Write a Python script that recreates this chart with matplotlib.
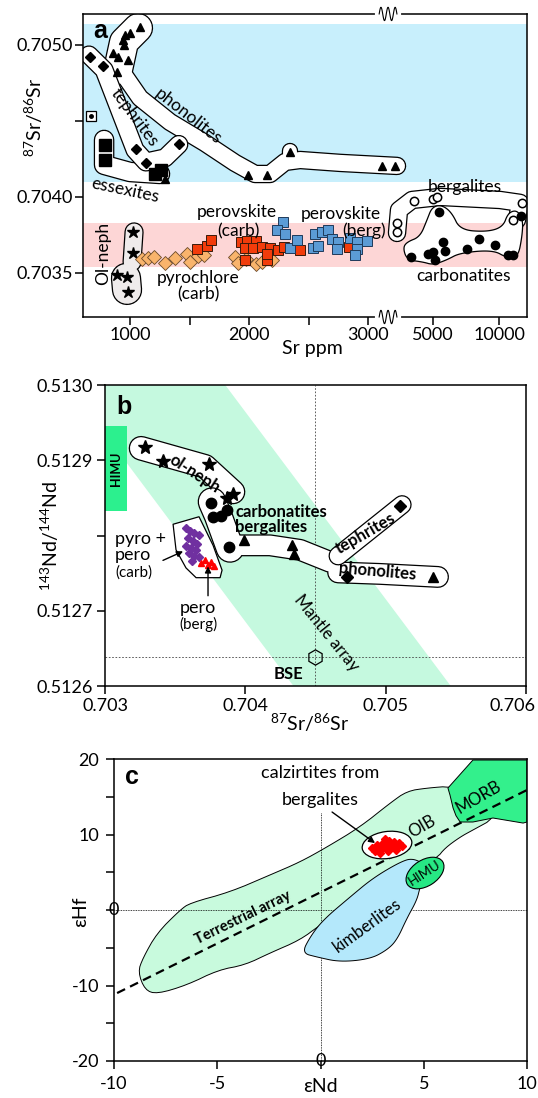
import matplotlib
matplotlib.use("Agg")
import matplotlib.pyplot as plt
import numpy as np
from matplotlib import transforms
from matplotlib.patches import Ellipse, Polygon, Rectangle

plt.rcParams.update(
    {
        "font.family": ["Lato", "DejaVu Sans"],
        "mathtext.default": "regular",
        "font.size": 12,
        "axes.linewidth": 1.1,
        "xtick.major.width": 1.1,
        "ytick.major.width": 1.1,
        "xtick.major.size": 5.5,
        "ytick.major.size": 5.5,
        "xtick.labelsize": 13,
        "ytick.labelsize": 13,
    }
)

# =============================================================================
# Panel a data: Sr ppm vs 87Sr/86Sr
# =============================================================================
phon_sr = [1084, 1000, 958, 941, 950, 857, 899, 983, 891, 1294, 1992, 2151, 2344, 3118, 3358]
phon_r = [0.705118, 0.705079, 0.705066, 0.705033, 0.705000, 0.704947, 0.704921, 0.704901,
          0.704822, 0.704118, 0.704145, 0.704145, 0.704296, 0.704204, 0.704204]
teph_sr = [664, 773, 1050, 1134, 1412]
teph_r = [0.704921, 0.704862, 0.704316, 0.704224, 0.704349]
ess_sr = [790, 790, 1210, 1260]
ess_r = [0.704342, 0.704243, 0.704151, 0.704178]
other_sr = [672]
other_r = [0.704533]
olneph_sr = [1025, 1025, 891, 975, 983]
olneph_r = [0.703770, 0.703632, 0.703487, 0.703474, 0.703375]
pyro_sr = [1101, 1151, 1202, 1294, 1378, 1479, 1504, 1571, 1622, 1882, 1908, 1975, 2059, 2109, 2193]
pyro_r = [0.703592, 0.703599, 0.703605, 0.703566, 0.703599, 0.703625, 0.703572, 0.703612,
          0.703618, 0.703605, 0.703566, 0.703592, 0.703559, 0.703572, 0.703586]
perc_sr = [1563, 1647, 1681, 1933, 1983, 2059, 1966, 2034, 2109, 1966, 2151, 2176, 2244, 2294,
           2429, 2151, 2840]
perc_r = [0.703658, 0.703678, 0.703717, 0.703704, 0.703711, 0.703711, 0.703664, 0.703664,
          0.703671, 0.703586, 0.703586, 0.703664, 0.703651, 0.703671, 0.703651, 0.703625, 0.703671]
perb_sr = [2286, 2235, 2302, 2344, 2403, 2538, 2580, 2555, 2613, 2664, 2697, 2748, 2739, 2849,
           2908, 2908, 2891, 2992]
perb_r = [0.703836, 0.703783, 0.703757, 0.703664, 0.703717, 0.703664, 0.703678, 0.703757,
          0.703770, 0.703783, 0.703724, 0.703704, 0.703658, 0.703730, 0.703704, 0.703658,
          0.703618, 0.703711]
berg_sr = [3425, 3425, 4092, 4992, 5204, 11526, 12660]
berg_r = [0.703829, 0.703770, 0.703974, 0.703987, 0.704000, 0.703849, 0.703961]
carb_sr = [5314, 3965, 4737, 4992, 5097, 5541, 5657, 7121, 8074, 9546, 10935, 11526, 12525]
carb_r = [0.703901, 0.703605, 0.703625, 0.703638, 0.703586, 0.703704, 0.703645, 0.703658,
          0.703724, 0.703684, 0.703618, 0.703618, 0.703875]

# envelopes (centre lines of the rounded fields)
teph_env_sr = [655, 782, 1042, 1134, 1294, 1410]
teph_env_r = [0.704934, 0.704836, 0.704309, 0.704230, 0.704257, 0.704345]
phon_env_sr = [933, 1084, 1336, 1630, 1882, 2050, 2176, 2302, 2429, 2765, 3425]
phon_env_r = [0.704822, 0.704651, 0.704493, 0.704355, 0.704224, 0.704151, 0.704151,
              0.704230, 0.704243, 0.704224, 0.704204]
phon_top_sr = [1067, 950, 899]
phon_top_r = [0.705112, 0.705020, 0.704836]
phon_bump_sr = [2344, 2344]
phon_bump_r = [0.704243, 0.704303]
ess_env_sr = [782, 782, 1000, 1252]
ess_env_r = [0.704375, 0.704211, 0.704164, 0.704151]
olneph_env1_sr = [1034, 1017]
olneph_env1_r = [0.703770, 0.703572]
olneph_env2_sr = [966, 975]
olneph_env2_r = [0.703467, 0.703388]
berg_env_sr = [3425, 3498, 4007, 5370, 10058, 12399, 12015]
berg_env_r = [0.703763, 0.703914, 0.703980, 0.704000, 0.703980, 0.703961, 0.703849]
carb_env_sr = [3646, 3803, 4496, 4992, 5778, 6620, 9348, 10823, 12142, 12659, 12794, 12016,
               10937, 10379, 8778, 6620, 6088, 5483, 4940, 4688, 4357, 3803]
carb_env_r = [0.703664, 0.703586, 0.703572, 0.703553, 0.703586, 0.703632, 0.703651, 0.703599,
              0.703605, 0.703737, 0.703849, 0.703914, 0.703895, 0.703803, 0.703770, 0.703783,
              0.703895, 0.703947, 0.703934, 0.703849, 0.703737, 0.703704]

# bands
blue_band = (0.704099, 0.705138)
pink_band = (0.703539, 0.703829)

# =============================================================================
# Panel b data: 87Sr/86Sr vs 143Nd/144Nd
# =============================================================================
olneph_b_sr = [0.703285, 0.703413, 0.703741, 0.703912, 0.703870]
olneph_b_nd = [0.512918, 0.512899, 0.512895, 0.512855, 0.512850]
carb_b_sr = [0.703756, 0.703770, 0.703827, 0.703870, 0.703884]
carb_b_nd = [0.512843, 0.512825, 0.512826, 0.512834, 0.512785]
tri_b_sr = [0.703991, 0.704333, 0.704347, 0.705338]
tri_b_nd = [0.512794, 0.512787, 0.512775, 0.512745]
phon_b_sr = [0.704725]
phon_b_nd = [0.512745]
teph_b_sr = [0.705103]
teph_b_nd = [0.512839]
pyro_b_sr = [0.703577, 0.703606, 0.703634, 0.703670, 0.703592, 0.703627, 0.703656, 0.703577,
             0.703613, 0.703649, 0.703599, 0.703634, 0.703670, 0.703620]
pyro_b_nd = [0.512810, 0.512806, 0.512803, 0.512801, 0.512797, 0.512793, 0.512789, 0.512786,
             0.512783, 0.512781, 0.512777, 0.512773, 0.512771, 0.512766]
pero_b_sr = [0.703684, 0.703713, 0.703734, 0.703756, 0.703777]
pero_b_nd = [0.512763, 0.512767, 0.512761, 0.512765, 0.512759]
bse = (0.704497, 0.512639)
mantle_sr = [0.702740, 0.703857, 0.705464, 0.704343]
mantle_nd = [0.5130, 0.5130, 0.5126, 0.5126]
himu_b = (0.703, 0.703157, 0.512832, 0.512945)
pp_poly_sr = [0.703485, 0.703670, 0.703770, 0.703834, 0.703820, 0.703649, 0.703577, 0.703506]
pp_poly_nd = [0.512815, 0.512825, 0.512787, 0.512754, 0.512744, 0.512744, 0.512757, 0.512781]
olneph_benv = ([0.703257, 0.703713, 0.703912], [0.512916, 0.512892, 0.512858])
carb_benv = ([0.703763, 0.703805, 0.703891], [0.512845, 0.512827, 0.512783])
band_benv = ([0.703891, 0.704176, 0.704390, 0.704604], [0.512787, 0.512787, 0.512781, 0.512765])
phon_benv = ([0.704661, 0.704960, 0.705373], [0.512751, 0.512749, 0.512745])
teph_benv = ([0.704661, 0.705117], [0.512773, 0.512841])

# =============================================================================
# Panel c data: eNd vs eHf
# =============================================================================
calz_end = [2.49, 2.74, 2.93, 3.03, 3.17, 3.32, 3.41, 3.56, 3.70, 3.80, 3.95, 2.88, 3.27, 3.66,
            2.64, 3.12]
calz_ehf = [8.21, 8.61, 8.08, 8.87, 8.34, 9.14, 8.48, 9.01, 8.34, 8.87, 8.48, 7.55, 7.81, 7.95,
            7.81, 9.40]
oib_end = [-8.84, -8.60, -7.92, -6.80, -6.32, -4.38, -2.45, -0.99, 0.31, 1.91, 3.37, 4.19, 5.16,
           6.37, 8.21, 8.45, 7.38, 6.76, 6.03, 5.64, 3.85, 1.43, -0.02, -0.99, -2.45, -3.66,
           -4.96, -6.46, -7.92, -8.50]
oib_ehf = [-8.21, -6.36, -3.05, 0.00, 0.93, 2.38, 4.64, 6.36, 8.34, 10.99, 14.17, 15.76, 16.16,
           16.42, 14.57, 12.19, 10.60, 9.67, 8.21, 6.89, 3.97, 0.66, -1.99, -3.97, -5.70, -7.28,
           -7.95, -9.93, -11.13, -10.60]
kimb_end = [3.85, 4.48, 5.16, 4.82, 4.67, 4.19, 3.70, 3.22, 2.40, 0.94, -0.17, -0.90, -0.51,
            0.12, 1.43, 2.54]
kimb_ehf = [6.36, 6.89, 5.83, 3.05, 1.32, -1.06, -3.97, -5.30, -6.49, -6.89, -6.23, -5.70,
            -3.58, -1.32, 1.72, 4.24]
morb_end = [6.17, 7.38, 10.0, 10.0, 9.81, 8.35, 7.38, 6.76, 6.56, 6.42, 6.27]
morb_ehf = [16.16, 19.87, 19.87, 11.66, 11.52, 12.19, 11.66, 11.66, 12.5, 13.51, 15.23]
terr_end = [-9.85, 10.0]
terr_ehf = [-11.0, 15.9]
himu_c = (5.06, 4.90)
calz_c = (3.22, 8.61)

# colours
C_BLUE_BAND = "#C8EFFC"
C_PINK_BAND = "#FDD6D6"
C_MANTLE = "#C5F9DF"
C_HIMU = "#2CF08E"


def sausage(ax, paths, fill="white", z=2):
    """Rounded envelope drawn as a thick outlined stroke."""
    for xs, ys, w in paths:
        ax.plot(xs, ys, color="k", lw=w + 1.8, solid_capstyle="round",
                solid_joinstyle="round", zorder=z)
    for xs, ys, w in paths:
        ax.plot(xs, ys, color=fill, lw=w, solid_capstyle="round",
                solid_joinstyle="round", zorder=z + 0.01)


def smooth_patch(ax, xs, ys, n=4, **kw):
    """Closed field smoothed (Chaikin) in axes space."""
    pts = np.column_stack([xs, ys]).astype(float)
    pts = ax.transAxes.inverted().transform(ax.transData.transform(pts))
    for _ in range(n):
        nxt = np.roll(pts, -1, axis=0)
        q = 0.75 * pts + 0.25 * nxt
        r = 0.25 * pts + 0.75 * nxt
        pts = np.empty((2 * len(q), 2))
        pts[0::2] = q
        pts[1::2] = r
    ax.add_patch(Polygon(pts, closed=True, transform=ax.transAxes, **kw))


def axis_break(ax, xf, yf):
    ax.plot([xf - 0.024, xf + 0.024], [yf, yf], color="white", lw=3,
            transform=ax.transAxes, clip_on=False, zorder=20)
    t = np.linspace(0, 1, 80)
    ax.plot(xf - 0.02 + 0.04 * t, yf + 0.022 * np.sin(2 * np.pi * 2.5 * t), color="k",
            lw=0.8, transform=ax.transAxes, clip_on=False, zorder=21)


fig = plt.figure(figsize=(5.38, 10.98), dpi=100)

# =============================================================================
# Panel a
# =============================================================================
B, K = 3185.0, 1850.0


def fwd(x):
    x = np.asarray(x, dtype=float)
    return np.where(x <= B, x, B + (np.log10(np.maximum(x, B)) - np.log10(B)) * K)


def inv(p):
    p = np.asarray(p, dtype=float)
    return np.where(p <= B, p, B * 10 ** ((np.maximum(p, B) - B) / K))


axa = fig.add_axes([0.1543, 0.7113, 0.8253, 0.2760])
axa.set_xscale("function", functions=(fwd, inv))
axa.set_xlim(605, 13340)
axa.set_ylim(0.703210, 0.705204)
axa.axhspan(*blue_band, color=C_BLUE_BAND, lw=0, zorder=0)
axa.axhspan(*pink_band, color=C_PINK_BAND, lw=0, zorder=0)

sausage(axa, [(phon_top_sr, phon_top_r, 20), (phon_env_sr, phon_env_r, 11.5),
              (phon_bump_sr, phon_bump_r, 10)], z=2)
sausage(axa, [(ess_env_sr, ess_env_r, 13)], z=2.2)
sausage(axa, [(teph_env_sr, teph_env_r, 12)], z=2.4)
sausage(axa, [(olneph_env1_sr, olneph_env1_r, 12), (olneph_env2_sr, olneph_env2_r, 20)],
        fill="#EFEBEB", z=2.4)
sausage(axa, [(berg_env_sr, berg_env_r, 11.5)], z=2.2)
smooth_patch(axa, carb_env_sr, carb_env_r, facecolor="white", edgecolor="k", lw=0.9, zorder=2.5)

mk = dict(ls="none", zorder=5)
axa.plot(phon_sr, phon_r, "^", color="k", ms=6, **mk)
axa.plot(teph_sr, teph_r, "D", color="k", ms=5.5, **mk)
axa.plot(ess_sr, ess_r, "s", color="k", ms=9, **mk)
axa.plot(other_sr, other_r, "s", mfc="white", mec="k", ms=7, mew=0.9, **mk)
axa.plot(other_sr, other_r, "o", color="k", ms=2.5, **mk)
axa.plot(olneph_sr, olneph_r, "*", color="k", ms=9, **mk)
axa.plot(pyro_sr, pyro_r, "D", mfc="#F9B46C", mec="#6B4A2A", ms=7, mew=0.6, **mk)
axa.plot(perc_sr, perc_r, "s", mfc="#F23C0B", mec="#3A1A0A", ms=7.5, mew=0.7, **mk)
axa.plot(perb_sr, perb_r, "s", mfc="#5B9BD5", mec="#1F3A5A", ms=7.5, mew=0.7, **mk)
axa.plot(berg_sr, berg_r, "o", mfc="white", mec="k", ms=6, mew=1.1, **mk)
axa.plot(carb_sr, carb_r, "o", color="k", ms=6, **mk)

txt = dict(ha="center", va="center", zorder=6, fontsize=12.5)
axa.text(1042, 0.704526, "tephrites", rotation=-53, **txt)
axa.text(1487, 0.704533, "phonolites", rotation=-38, **txt)
axa.text(958, 0.704046, "essexites", rotation=-12, **txt)
axa.text(773, 0.703625, "Ol-neph", rotation=90, **txt)
axa.text(1899, 0.703901, "perovskite", **txt)
axa.text(1908, 0.703776, "(carb)", **txt)
axa.text(1571, 0.703467, "pyrochlore", **txt)
axa.text(1571, 0.703362, "(carb)", **txt)
axa.text(2773, 0.703888, "perovskite", **txt)
axa.text(2966, 0.703776, "(berg)", **txt)
axa.text(6975, 0.704066, "bergalites", **txt)
axa.text(6831, 0.703480, "carbonatites", **txt)
axa.text(0.038, 0.944, "a", transform=axa.transAxes, ha="center", va="center",
         fontsize=18, fontweight="bold", family="Liberation Sans")

axa.set_xticks([1000, 1500, 2000, 2500, 3000, 5000, 10000])
axa.set_xticklabels(["1000", "", "2000", "", "3000", "5000", "10000"])
axa.xaxis.set_minor_locator(matplotlib.ticker.NullLocator())
axa.set_yticks([0.7035, 0.7040, 0.7045, 0.7050])
axa.set_yticklabels(["0.7035", "0.7040", "", "0.7050"])
axa.tick_params(axis="both", direction="out", pad=2)
axa.set_xlabel("Sr ppm", fontsize=14)
axa.xaxis.set_label_coords(0.516, -0.075)
axa.set_ylabel("$^{87}$Sr/$^{86}$Sr", fontsize=14)
axa.yaxis.set_label_coords(-0.085, 0.66)
axis_break(axa, 0.687, 1.0)
axis_break(axa, 0.687, 0.0)

# =============================================================================
# Panel b
# =============================================================================
axb = fig.add_axes([0.1952, 0.3752, 0.7825, 0.2741])
axb.set_xlim(0.703, 0.706)
axb.set_ylim(0.5126, 0.5130)
axb.add_patch(Polygon(np.column_stack([mantle_sr, mantle_nd]), closed=True,
                      facecolor=C_MANTLE, lw=0, zorder=0))
axb.add_patch(Rectangle((himu_b[0], himu_b[2]), himu_b[1] - himu_b[0], himu_b[3] - himu_b[2],
                        facecolor=C_HIMU, lw=0, zorder=1))
axb.text((himu_b[0] + himu_b[1]) / 2, (himu_b[2] + himu_b[3]) / 2, "HIMU", rotation=90,
         ha="center", va="center", fontsize=9, fontweight="bold", zorder=2)
dash = dict(color="#444444", lw=0.6, ls=(0, (2, 2)), zorder=1.5)
axb.axvline(bse[0], **dash)
axb.axhline(bse[1], **dash)
axb.plot([bse[0]], [bse[1]], "h", mfc="none", mec="k", ms=11, mew=0.9, zorder=4)

sausage(axb, [(*olneph_benv, 16)], z=2)
sausage(axb, [(*carb_benv, 19), (*band_benv, 14), (*phon_benv, 14)], z=2.2)
sausage(axb, [(*teph_benv, 12)], z=2.4)
axb.add_patch(Polygon(np.column_stack([pp_poly_sr, pp_poly_nd]), closed=True,
                      facecolor="white", edgecolor="k", lw=0.9, zorder=2.5))

axb.plot(olneph_b_sr, olneph_b_nd, "*", color="k", ms=10, **mk)
axb.plot(carb_b_sr, carb_b_nd, "o", color="k", ms=7.5, **mk)
axb.plot(tri_b_sr, tri_b_nd, "^", color="k", ms=7.5, **mk)
axb.plot(phon_b_sr, phon_b_nd, "D", color="k", ms=6.5, **mk)
axb.plot(teph_b_sr, teph_b_nd, "D", color="k", ms=6.5, **mk)
axb.plot(pyro_b_sr, pyro_b_nd, "D", color="#7030A0", ms=3.8, **mk)
axb.plot(pero_b_sr, pero_b_nd, "^", color="#FF0000", ms=5, **mk)

bold = dict(ha="center", va="center", fontsize=12, fontweight="bold", zorder=6)
axb.text(0.703641, 0.512882, "ol-neph", rotation=-33, **bold)
axb.text(0.703927, 0.512831, "carbonatites", **{**bold, "ha": "left"})
axb.text(0.703927, 0.512811, "bergalites", **{**bold, "ha": "left"})
axb.text(0.704853, 0.512803, "tephrites", rotation=30, **bold)
axb.text(0.704939, 0.512752, "phonolites", rotation=-5, **bold)
axb.text(0.704307, 0.512616, "BSE", **bold)
axb.text(0.704579, 0.512671, "Mantle array", rotation=-51, ha="center", va="center",
         fontsize=12, zorder=6)
axb.text(0.703071, 0.512795, "pyro +", ha="left", va="center", fontsize=13, zorder=6)
axb.text(0.703071, 0.512774, "pero", ha="left", va="center", fontsize=13, zorder=6)
axb.text(0.703071, 0.512751, "(carb)", ha="left", va="center", fontsize=11, zorder=6)
axb.text(0.703663, 0.512704, "pero", ha="center", va="center", fontsize=13, zorder=6)
axb.text(0.703663, 0.512682, "(berg)", ha="center", va="center", fontsize=11, zorder=6)
arrow = dict(arrowstyle="-|>", color="k", lw=1.0, mutation_scale=9, shrinkA=0, shrinkB=0)
axb.annotate("", xy=(0.703556, 0.512779), xytext=(0.703413, 0.512767), arrowprops=arrow,
             zorder=6)
axb.annotate("", xy=(0.703734, 0.512759), xytext=(0.703734, 0.512720), arrowprops=arrow,
             zorder=6)
axb.text(0.045, 0.927, "b", transform=axb.transAxes, ha="center", va="center",
         fontsize=18, fontweight="bold", family="Liberation Sans")

axb.set_xticks([0.703, 0.704, 0.705, 0.706])
axb.set_xticklabels(["0.703", "0.704", "0.705", "0.706"])
axb.set_yticks([0.5126, 0.5127, 0.5128, 0.5129, 0.5130])
axb.set_yticklabels(["0.5126", "0.5127", "", "0.5129", "0.5130"])
axb.tick_params(axis="both", direction="out", pad=3)
# the last label sits flush against the right edge of the figure
last = axb.get_xticklabels()[-1]
last.set_transform(last.get_transform()
                   + transforms.ScaledTranslation(-0.14, 0, fig.dpi_scale_trans))
axb.set_xlabel("$^{87}$Sr/$^{86}$Sr", fontsize=14)
axb.xaxis.set_label_coords(0.485, -0.085)
axb.set_ylabel("$^{143}$Nd/$^{144}$Nd", fontsize=14)
axb.yaxis.set_label_coords(-0.105, 0.50)

# =============================================================================
# Panel c
# =============================================================================
axc = fig.add_axes([0.2119, 0.0337, 0.7677, 0.2750])
axc.set_xlim(-10, 10)
axc.set_ylim(-20, 20)
smooth_patch(axc, oib_end, oib_ehf, n=2, facecolor="#C8FADD", edgecolor="k", lw=0.7,
             zorder=1)
axc.plot([0, 0], [12.85, -20], color="k", lw=0.6, ls=(0, (1, 1)), zorder=1.5)
axc.plot([-10, 10], [0, 0], color="k", lw=0.6, ls=(0, (1, 1)), zorder=1.5)
smooth_patch(axc, kimb_end, kimb_ehf, n=3, facecolor="#B4E8FB", edgecolor="k", lw=0.7,
             zorder=2)
axc.add_patch(Polygon(np.column_stack([morb_end, morb_ehf]), closed=True, facecolor="#33F08C",
                      edgecolor="k", lw=0.7, zorder=2, clip_on=True))
axc.plot(terr_end, terr_ehf, color="k", lw=1.6, ls=(0, (4, 2.5)), zorder=3)


def ellipse_at(ax, xy, w_in, h_in, angle, **kw):
    tr = fig.dpi_scale_trans + transforms.ScaledTranslation(xy[0], xy[1], ax.transData)
    ax.add_patch(Ellipse((0, 0), w_in, h_in, angle=angle, transform=tr, **kw))


ellipse_at(axc, himu_c, 0.42, 0.26, 33, facecolor="#27E884", edgecolor="k", lw=0.8, zorder=4)
ellipse_at(axc, calz_c, 0.50, 0.27, 8, facecolor="white", edgecolor="k", lw=0.9, zorder=4)
axc.plot(calz_end, calz_ehf, "D", color="#FF0000", ms=4.2, **mk)

axc.text(-0.02, 18.15, "calzirtites from", ha="center", va="center", fontsize=13, zorder=6)
axc.text(-0.02, 14.57, "bergalites", ha="center", va="center", fontsize=13, zorder=6)
axc.annotate("", xy=(2.64, 8.87), xytext=(0.56, 12.98), arrowprops=arrow, zorder=6)
axc.text(4.92, 11.0, "OIB", rotation=30, ha="center", va="center", fontsize=12, zorder=6)
axc.text(7.63, 14.97, "MORB", rotation=30, ha="center", va="center", fontsize=12, zorder=6)
axc.text(5.06, 4.90, "HIMU", rotation=33, ha="center", va="center", fontsize=9.5, zorder=6)
axc.text(2.25, -1.99, "kimberlites", rotation=36, ha="center", va="center", fontsize=12,
         zorder=6)
axc.text(-3.75, -1.06, "Terrestrial array", rotation=26, ha="center", va="center",
         fontsize=10.5, fontweight="bold", zorder=6)
axc.text(0.044, 0.94, "c", transform=axc.transAxes, ha="center", va="center",
         fontsize=18, fontweight="bold", family="Liberation Sans")

axc.set_xticks([-10, -5, 0, 5, 10])
axc.set_xticklabels(["-10", "-5", "", "5", "10"])
axc.set_yticks([-20, -15, -10, -5, 0, 5, 10, 15, 20])
axc.set_yticklabels(["-20", "", "-10", "", "", "", "10", "", "20"])
axc.tick_params(axis="both", direction="out", pad=5)
axc.text(-10, 0, "0", ha="center", va="center", fontsize=13, clip_on=False, zorder=7)
axc.text(0, -20, "0", ha="center", va="center", fontsize=13, clip_on=False, zorder=7)
axc.set_xlabel("εNd", fontsize=14)
axc.xaxis.set_label_coords(0.499, -0.055)
axc.set_ylabel("εHf", fontsize=14)
axc.yaxis.set_label_coords(-0.06, 0.493)

fig.savefig("out.png", dpi=100)
